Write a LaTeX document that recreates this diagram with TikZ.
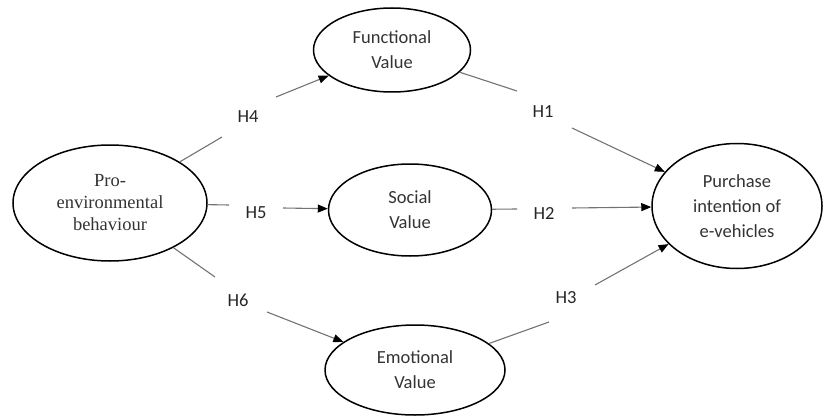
\documentclass[tikz,border=0pt]{standalone}
\usepackage{fontspec}
\setmainfont{Liberation Serif}
\newfontfamily\calibriface{Carlito}
\usetikzlibrary{shapes.geometric,arrows.meta}
\tikzset{
  construct/.style={draw=black,line width=1.5pt,ellipse,inner sep=0pt,align=center,
    font=\calibriface\fontsize{18.5}{25}\selectfont\color{black!80}},
  serifconstruct/.style={draw=black,line width=1.5pt,ellipse,inner sep=0pt,align=center,
    font=\rmfamily\fontsize{18.5}{22}\selectfont\color{black!80}},
  hyp/.style={font=\calibriface\fontsize{18.5}{22}\selectfont\color{black!85},inner sep=0pt},
  link/.style={draw=black!55,line width=1.1pt},
  arr/.style={link,-{Triangle[length=10pt,width=8pt,color=black]}}
}
\begin{document}
\begin{tikzpicture}[x=1pt,y=-1pt]
\useasboundingbox (0,0) rectangle (824,417);
% constructs
\node[serifconstruct,minimum width=194pt,minimum height=116pt] (pro) at (110,203) {Pro-\\environmental\\behaviour};
\node[construct,minimum width=157pt,minimum height=84pt] (func) at (392,50) {Functional\\Value};
\node[construct,minimum width=163pt,minimum height=92pt] (soc) at (410,210) {Social\\Value};
\node[construct,minimum width=180pt,minimum height=90pt] (emo) at (415,370) {Emotional\\Value};
\node[construct,minimum width=170pt,minimum height=125pt] (pur) at (737,206) {Purchase\\intention of\\e-vehicles};
% hypothesis labels
\node[hyp] (h4) at (248,117) {H4};
\node[hyp] (h5) at (256,213) {H5};
\node[hyp] (h6) at (238,300) {H6};
\node[hyp] (h1) at (543,112) {H1};
\node[hyp] (h2) at (544,213) {H2};
\node[hyp] (h3) at (566,298) {H3};
% gap coordinates
\coordinate (a4) at (222,137); \coordinate (b4) at (276,97);
\coordinate (a5) at (229,205); \coordinate (b5) at (283,208);
\coordinate (a6) at (215,277); \coordinate (b6) at (267,312);
\coordinate (a1) at (517,91);  \coordinate (b1) at (572,128);
\coordinate (a2) at (517,209); \coordinate (b2) at (572,208);
\coordinate (a3) at (549,322); \coordinate (b3) at (595,285);
% connectors
\draw[link] (pro) -- (a4); \draw[arr] (b4) -- (func);
\draw[link] (pro) -- (a5); \draw[arr] (b5) -- (soc);
\draw[link] (pro) -- (a6); \draw[arr] (b6) -- (emo);
\draw[link] (func) -- (a1); \draw[arr] (b1) -- (pur);
\draw[link] (soc) -- (a2); \draw[arr] (b2) -- (pur);
\draw[link] (emo) -- (a3); \draw[arr] (b3) -- (pur);
\end{tikzpicture}
\end{document}
